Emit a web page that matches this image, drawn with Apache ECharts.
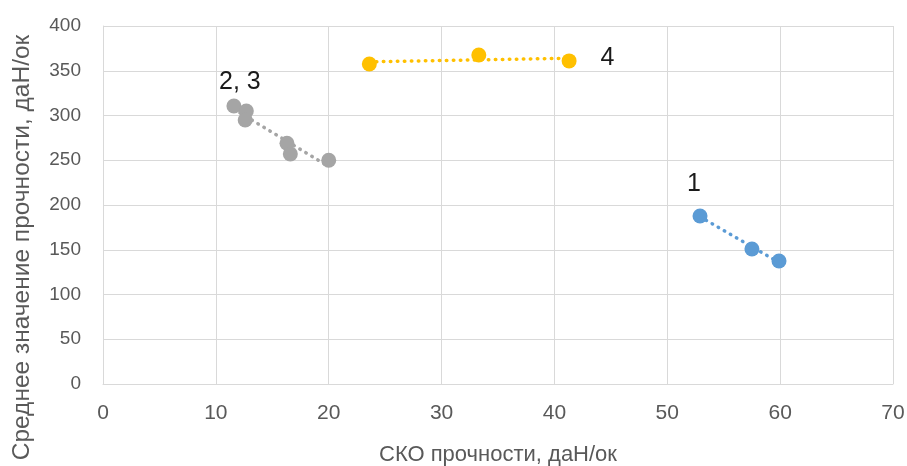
<!DOCTYPE html>
<html>
<head>
<meta charset="utf-8">
<script src="https://cdn.jsdelivr.net/npm/echarts@6/dist/echarts.min.js"></script>
<style>
  html, body { margin: 0; padding: 0; background: #fff; overflow: hidden; }
  #chart { width: 907px; height: 466px; }
</style>
</head>
<body>
<div id="chart"></div>
<script>
// Sample groups: [СКО, среднее]
const group1 = [[52.9, 187.7], [57.5, 150.8], [59.9, 137.4]];
const group23 = [[11.6, 310.6], [12.7, 305], [12.6, 295], [16.3, 269], [16.6, 257], [20.0, 250]];
const group4 = [[23.6, 357.5], [33.3, 367.6], [41.3, 361]];

// Linear trend endpoints for each group
const trend1 = [[52.9, 186.9], [59.9, 135.8]];
const trend23 = [[11.6, 307], [20.0, 243]];
const trend4 = [[23.6, 360], [41.3, 364]];

const groupLabels = ['1', '2, 3', '4'];

const xTitle = 'СКО прочности, даН/ок';
const yTitle = 'Среднее значение прочности, даН/ок';

const colors = { g1: '#5B9BD5', g23: '#A5A5A5', g4: '#FFC000' };

const labelStyle = { color: '#1a1a1a', fontSize: 25, fontFamily: 'Liberation Sans, Arial, sans-serif' };

function pointsWithLabel(data, idx, text, pos, offset) {
  return data.map((d, i) => i === idx
    ? { value: d, label: Object.assign({ show: true, formatter: text, position: pos, offset: offset }, labelStyle) }
    : { value: d });
}

function trendLine(data, color) {
  return {
    type: 'line', data: data, symbol: 'none', silent: true, z: 1,
    lineStyle: { color: color, width: 3.5, type: [0.5, 6.5], cap: 'round' }
  };
}

const chart = echarts.init(document.getElementById('chart'), null, { renderer: 'canvas' });
chart.setOption({
  animation: false,
  grid: { left: 103, right: 14, top: 26, bottom: 82, containLabel: false, outerBoundsMode: 'none' },
  xAxis: {
    type: 'value', min: 0, max: 70, interval: 10,
    name: xTitle, nameLocation: 'middle', nameGap: 60,
    nameTextStyle: { color: '#595959', fontSize: 22, fontFamily: 'Liberation Sans, Arial, sans-serif' },
    axisLine: { show: true, lineStyle: { color: '#d9d9d9', width: 1 } },
    axisTick: { show: false },
    axisLabel: { color: '#595959', fontSize: 21, margin: 19, fontFamily: 'Liberation Sans, Arial, sans-serif' },
    splitLine: { show: true, lineStyle: { color: '#d9d9d9', width: 1 } }
  },
  yAxis: {
    type: 'value', min: 0, max: 400, interval: 50,
    name: yTitle, nameLocation: 'middle', nameGap: 68,
    nameTextStyle: { color: '#595959', fontSize: 24.5, fontFamily: 'Liberation Sans, Arial, sans-serif', padding: [0, 85, 0, 0] },
    axisLine: { show: true, lineStyle: { color: '#d9d9d9', width: 1 } },
    axisTick: { show: false },
    axisLabel: { color: '#595959', fontSize: 19, margin: 22, fontFamily: 'Liberation Sans, Arial, sans-serif' },
    splitLine: { show: true, lineStyle: { color: '#d9d9d9', width: 1 } }
  },
  series: [
    trendLine(trend1, colors.g1),
    trendLine(trend23, colors.g23),
    trendLine(trend4, colors.g4),
    {
      type: 'scatter', symbolSize: 15, z: 3,
      itemStyle: { color: colors.g1, opacity: 1 },
      data: pointsWithLabel(group1, 0, groupLabels[0], 'top', [-6, -7])
    },
    {
      type: 'scatter', symbolSize: 15, z: 3,
      itemStyle: { color: colors.g23, opacity: 1 },
      data: pointsWithLabel(group23, 0, groupLabels[1], 'top', [6, 1])
    },
    {
      type: 'scatter', symbolSize: 15, z: 3,
      itemStyle: { color: colors.g4, opacity: 1 },
      data: pointsWithLabel(group4, 2, groupLabels[2], 'right', [19, -3])
    }
  ]
});
</script>
</body>
</html>
